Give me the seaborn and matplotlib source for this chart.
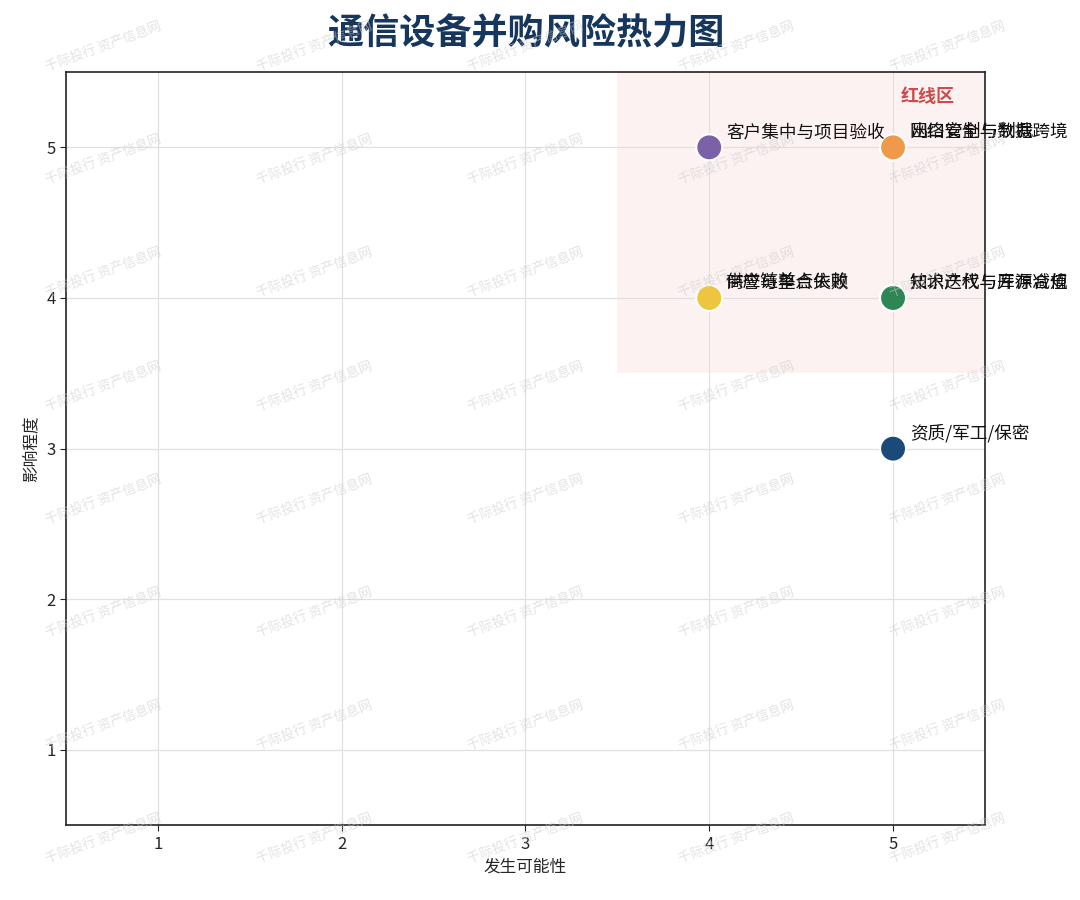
import numpy as np
import pandas as pd
import seaborn as sns
import matplotlib.pyplot as plt
from matplotlib.patches import Rectangle

# data
risks = ["客户集中与项目验收", "出口管制与制裁", "网络安全与数据跨境",
         "商誉与整合失败", "供应链单点依赖",
         "技术迭代与库存减值", "知识产权与开源合规", "资质/军工/保密"]
likelihood = [4, 5, 5, 4, 4, 5, 5, 5]
impact = [5, 5, 5, 4, 4, 4, 4, 3]
point_colors = ["#7b62a8", "#f0994a", "#f0994a", "#edc53f", "#edc53f",
                "#2e8655", "#2e8655", "#1b4a7a"]

df = pd.DataFrame({"风险": risks, "发生可能性": likelihood, "影响程度": impact})

sns.set_style("white")
plt.rcParams['font.family'] = ['Noto Sans CJK SC', 'DejaVu Sans']

fig = plt.figure(figsize=(10.8, 9), dpi=100)
ax = fig.add_axes([0.061, 0.083, 0.851, 0.837])

# red-line zone
ax.add_patch(Rectangle((3.5, 3.5), 2.0, 2.0, facecolor="#fbe9e9", alpha=0.55,
                       edgecolor="none", zorder=0))
ax.text(5.19, 5.34, "红线区", color="#cc4b4b", fontsize=13, fontweight="bold",
        ha="center", va="center")

sns.scatterplot(data=df, x="发生可能性", y="影响程度", hue="风险",
                palette=dict(zip(risks, point_colors)), s=350,
                edgecolor="white", linewidth=1.5, legend=False, ax=ax, zorder=3)

for r, x, y in zip(risks, likelihood, impact):
    ax.annotate(r, (x, y), xytext=(12, 11), textcoords="offset points",
                fontsize=12.7, color="#111111", ha="left", va="center",
                annotation_clip=False, zorder=4)

ax.set_xlim(0.5, 5.5)
ax.set_ylim(0.5, 5.5)
ax.set_xticks([1, 2, 3, 4, 5])
ax.set_yticks([1, 2, 3, 4, 5])
ax.grid(True, color="#e0e0e0", linewidth=0.9)
ax.set_axisbelow(True)
ax.tick_params(labelsize=12, length=4, left=True, bottom=True)
for sp in ax.spines.values():
    sp.set_color("#222222")
    sp.set_linewidth(1.2)
ax.set_xlabel("发生可能性", fontsize=12)
ax.set_ylabel("影响程度", fontsize=12)

ax.set_title("通信设备并购风险热力图", fontsize=26, fontweight="bold",
             color="#17365d", pad=20)

# watermark tiles
for i in range(5):
    for j in range(8):
        fig.text(0.0963 + i * 0.1954, 0.9467 - j * 0.1256, "千际投行 资产信息网",
                 fontsize=9.5, color="#cccccc", alpha=0.55, rotation=20,
                 ha="center", va="center", zorder=10)

fig.savefig("out.png", dpi=100)
